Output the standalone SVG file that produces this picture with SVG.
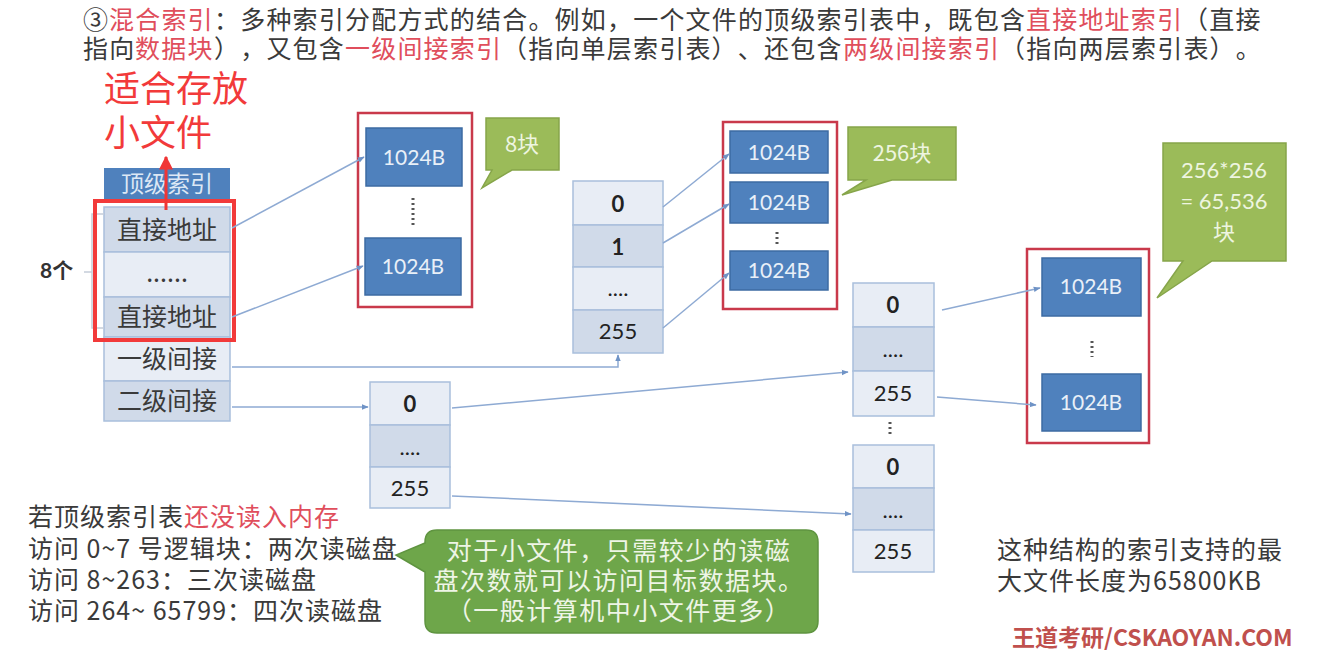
<svg xmlns="http://www.w3.org/2000/svg" width="1334" height="655" viewBox="0 0 1334 655">
<defs>
<style>
.cjk{font-family:"Noto Sans CJK SC","Noto Sans",sans-serif;text-spacing-trim:space-all}
.num{font-family:"Lato","Open Sans","Noto Sans CJK SC",sans-serif}
.para{font-size:25px;fill:#3a3a3a;letter-spacing:1.2px}
.lbl{font-size:25px;fill:#3a3a3a;text-anchor:middle}
.cellL{fill:#e8edf5;stroke:#a9bfdc;stroke-width:1.5}
.cellD{fill:#d0dae9;stroke:#a9bfdc;stroke-width:1.5}
.data{fill:#4f81bd;stroke:#3d6ba3;stroke-width:1.5}
.dtxt{font-size:21px;fill:#e9f0f8;text-anchor:middle}
.itxt{font-size:22px;fill:#222;text-anchor:middle}
.frame{fill:#fff;stroke:#c9394b;stroke-width:2.5}
.callout{fill:#9bbb59;stroke:#86a54a;stroke-width:1.5}
.ctxt{font-size:22px;fill:#eef5e0;text-anchor:middle}
.conn{fill:none;stroke:#8eaad3;stroke-width:1.5}
.dots{stroke:#555;stroke-width:3;stroke-dasharray:2 3}
.btxt{font-size:25px;fill:#3a3a3a;letter-spacing:1px}
.gtxt{font-size:25px;fill:#eef5e6;text-anchor:middle;letter-spacing:1.5px}
.red{fill:#e04e5c}
</style>
<marker id="arr" viewBox="0 0 10 10" refX="9" refY="5" markerWidth="7" markerHeight="7" orient="auto" markerUnits="userSpaceOnUse"><path d="M0,1 L10,5 L0,9 z" fill="#6f93c6"/></marker>
<marker id="redarr" viewBox="0 0 10 10" refX="9" refY="5" markerWidth="14" markerHeight="14" orient="auto" markerUnits="userSpaceOnUse"><path d="M0,0 L10,5 L0,10 z" fill="#f03535"/></marker>
</defs>
<rect width="1334" height="655" fill="#ffffff"/>

<g id="title">
<text class="cjk para" x="83" y="29">③</text>
<text class="cjk para red" x="109" y="29">混合索引</text>
<text class="cjk para" x="214" y="29">：多种索引分配方式的结合。例如，一个文件的顶级索引表中，既包含</text>
<text class="cjk para red" x="1026" y="29">直接地址索引</text>
<text class="cjk para" x="1183" y="29">（直接</text>
<text class="cjk para" x="83" y="58">指向</text>
<text class="cjk para red" x="135" y="58">数据块</text>
<text class="cjk para" x="214" y="58">），又包含</text>
<text class="cjk para red" x="345" y="58">一级间接索引</text>
<text class="cjk para" x="502" y="58">（指向单层索引表）、还包含</text>
<text class="cjk para red" x="843" y="58">两级间接索引</text>
<text class="cjk para" x="1000" y="58">（指向两层索引表）。</text>
</g>

<g id="note-small">
<text class="cjk" x="104" y="102" font-size="36" fill="#f23a3a">适合存放</text>
<text class="cjk" x="104" y="146" font-size="36" fill="#f23a3a">小文件</text>
</g>

<g id="top-index">
<rect x="104" y="168" width="126" height="31" fill="#4f81bd"/>
<text class="cjk" x="167" y="192" font-size="23" fill="#dde8f5" text-anchor="middle">顶级索引</text>
<rect x="104" y="207" width="126" height="45" class="cellD" stroke="none"/>
<text class="cjk lbl" x="167" y="239">直接地址</text>
<rect x="104" y="252" width="126" height="45" class="cellL" stroke="none"/>
<text class="cjk lbl" x="167" y="282">......</text>
<rect x="104" y="297" width="126" height="40" class="cellD" stroke="none"/>
<text class="cjk lbl" x="167" y="326">直接地址</text>
<rect x="104" y="337" width="126" height="44" class="cellL" stroke="none"/>
<text class="cjk lbl" x="167" y="368">一级间接</text>
<rect x="104" y="381" width="126" height="40" class="cellD" stroke="none"/>
<text class="cjk lbl" x="167" y="410">二级间接</text>
</g>

<g id="bracket">
<path d="M104,214 H92 V328 H104 M92,272 H84" fill="none" stroke="#c5cdd9" stroke-width="1.5"/>
<text class="num" x="40" y="278" font-size="21" font-weight="bold" fill="#333">8个</text>
</g>

<g id="highlight">
<rect x="95" y="201" width="139" height="139" fill="none" stroke="#f23a3a" stroke-width="4"/>
<line x1="166" y1="210" x2="166" y2="157" stroke="#f03535" stroke-width="3" marker-end="url(#redarr)"/>
</g>

<g id="data-direct">
<rect x="358" y="113" width="114" height="194" class="frame"/>
<rect x="366" y="128" width="96" height="58" class="data"/>
<text class="num dtxt" x="414" y="165">1024B</text>
<line x1="413" y1="198" x2="413" y2="226" class="dots"/>
<rect x="365" y="238" width="96" height="57" class="data"/>
<text class="num dtxt" x="413" y="274">1024B</text>
</g>

<g id="callout-8">
<path d="M486,118 H559 V170 H512 L482,188 L492,170 H486 Z" class="callout"/>
<text class="cjk ctxt" x="522" y="152">8块</text>
</g>

<g id="index-l1">
<rect x="573" y="181" width="90" height="44" class="cellL"/>
<text class="num itxt" x="618" y="212" font-weight="bold">0</text>
<rect x="573" y="225" width="90" height="42" class="cellD"/>
<text class="num itxt" x="618" y="255" font-weight="bold">1</text>
<rect x="573" y="267" width="90" height="43" class="cellL"/>
<text class="num itxt" x="618" y="296">....</text>
<rect x="573" y="310" width="90" height="43" class="cellD"/>
<text class="num itxt" x="618" y="339">255</text>
</g>

<g id="data-l1">
<rect x="723" y="122" width="114" height="187" class="frame"/>
<rect x="730" y="131" width="98" height="42" class="data"/>
<text class="num dtxt" x="779" y="160">1024B</text>
<rect x="730" y="182" width="98" height="41" class="data"/>
<text class="num dtxt" x="779" y="210">1024B</text>
<line x1="777" y1="232" x2="777" y2="246" class="dots"/>
<rect x="730" y="251" width="98" height="39" class="data"/>
<text class="num dtxt" x="779" y="278">1024B</text>
</g>

<g id="callout-256">
<path d="M848,127 H956 V180 H892 L842,195 L866,180 H848 Z" class="callout"/>
<text class="cjk ctxt" x="902" y="161">256块</text>
</g>

<g id="index-l2a">
<rect x="370" y="382" width="80" height="43" class="cellL"/>
<text class="num itxt" x="410" y="412" font-weight="bold">0</text>
<rect x="370" y="425" width="80" height="42" class="cellD"/>
<text class="num itxt" x="410" y="455">....</text>
<rect x="370" y="467" width="80" height="41" class="cellL"/>
<text class="num itxt" x="410" y="496">255</text>
</g>

<g id="index-l2b">
<rect x="853" y="283" width="81" height="44" class="cellL"/>
<text class="num itxt" x="893" y="313" font-weight="bold">0</text>
<rect x="853" y="327" width="81" height="44" class="cellD"/>
<text class="num itxt" x="893" y="357">....</text>
<rect x="853" y="371" width="81" height="45" class="cellL"/>
<text class="num itxt" x="893" y="401">255</text>
</g>

<g id="dots-between">
<line x1="890" y1="422" x2="890" y2="437" class="dots"/>
</g>

<g id="index-l2c">
<rect x="853" y="445" width="81" height="43" class="cellL"/>
<text class="num itxt" x="893" y="475" font-weight="bold">0</text>
<rect x="853" y="488" width="81" height="42" class="cellD"/>
<text class="num itxt" x="893" y="518">....</text>
<rect x="853" y="530" width="81" height="42" class="cellL"/>
<text class="num itxt" x="893" y="559">255</text>
</g>

<g id="data-l2">
<rect x="1027" y="249" width="122" height="194" class="frame"/>
<rect x="1042" y="258" width="99" height="58" class="data"/>
<text class="num dtxt" x="1091" y="294">1024B</text>
<line x1="1092" y1="341" x2="1092" y2="357" class="dots"/>
<rect x="1042" y="374" width="99" height="57" class="data"/>
<text class="num dtxt" x="1091" y="410">1024B</text>
</g>

<g id="callout-65536">
<path d="M1163,143 H1286 V261 H1212 L1157,298 L1183,261 H1163 Z" class="callout"/>
<text class="num ctxt" x="1224" y="178" font-size="23">256*256</text>
<text class="num ctxt" x="1224" y="209" font-size="23">= 65,536</text>
<text class="cjk ctxt" x="1224" y="240" font-size="23">块</text>
</g>

<g id="connectors">
<line x1="232" y1="228" x2="364" y2="157" class="conn" marker-end="url(#arr)"/>
<line x1="232" y1="317" x2="363" y2="266" class="conn" marker-end="url(#arr)"/>
<polyline points="232,367 618,367 618,355" class="conn" marker-end="url(#arr)"/>
<line x1="232" y1="407" x2="368" y2="407" class="conn" marker-end="url(#arr)"/>
<line x1="663" y1="207" x2="729" y2="154" class="conn" marker-end="url(#arr)"/>
<line x1="663" y1="243" x2="729" y2="204" class="conn" marker-end="url(#arr)"/>
<line x1="663" y1="328" x2="729" y2="273" class="conn" marker-end="url(#arr)"/>
<line x1="452" y1="408" x2="848" y2="372" class="conn" marker-end="url(#arr)"/>
<line x1="452" y1="496" x2="851" y2="514" class="conn" marker-end="url(#arr)"/>
<line x1="942" y1="310" x2="1040" y2="288" class="conn" marker-end="url(#arr)"/>
<line x1="937" y1="397" x2="1036" y2="405" class="conn" marker-end="url(#arr)"/>
</g>

<g id="access-notes">
<text class="cjk btxt" x="28" y="526">若顶级索引表</text>
<text class="cjk btxt red" x="184" y="526">还没读入内存</text>
<text class="cjk btxt" x="28" y="558">访问 0~7 号逻辑块：两次读磁盘</text>
<text class="cjk btxt" x="28" y="589">访问 8~263：三次读磁盘</text>
<text class="cjk btxt" x="28" y="620">访问 264~ 65799：四次读磁盘</text>
</g>

<g id="callout-small">
<path d="M437,530 H806 Q818,530 818,542 V621 Q818,633 806,633 H437 Q425,633 425,621 V572 L396,555 L425,543 V542 Q425,530 437,530 Z" fill="#6ea64a" stroke="#5f9440" stroke-width="1.5"/>
<text class="cjk gtxt" x="619" y="560">对于小文件，只需较少的读磁</text>
<text class="cjk gtxt" x="619" y="590">盘次数就可以访问目标数据块。</text>
<text class="cjk gtxt" x="619" y="620">（一般计算机中小文件更多）</text>
</g>

<g id="max-size">
<text class="cjk btxt" x="997" y="559">这种结构的索引支持的最</text>
<text class="cjk btxt" x="997" y="590">大文件长度为65800KB</text>
</g>

<g id="watermark">
<text class="cjk" x="1012" y="646" font-size="23" font-weight="bold" fill="#c0504d">王道考研/CSKAOYAN.COM</text>
</g>
</svg>
